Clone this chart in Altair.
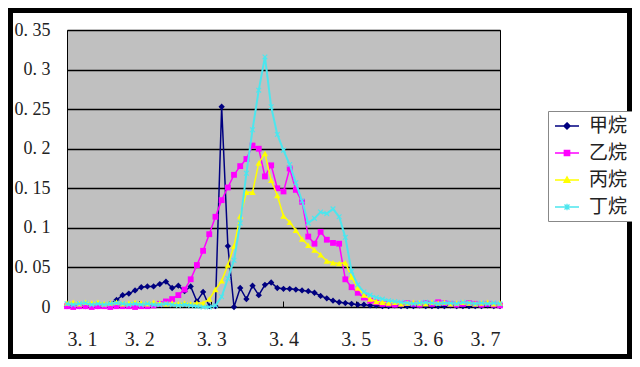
import altair as alt
import pandas as pd

x_values = [
    3.1, 3.1086, 3.1171, 3.1257, 3.1343, 3.1429, 3.1514, 3.16, 3.1686, 3.1771,
    3.1857, 3.1943, 3.2029, 3.2114, 3.22, 3.2286, 3.2371, 3.2457, 3.2543, 3.2629,
    3.2714, 3.28, 3.2886, 3.2971, 3.3057, 3.3143, 3.3229, 3.3314, 3.34, 3.3486,
    3.3571, 3.3657, 3.3743, 3.3829, 3.3914, 3.4, 3.4086, 3.4171, 3.4257, 3.4343,
    3.4429, 3.4514, 3.46, 3.4686, 3.4771, 3.4857, 3.4943, 3.5029, 3.5114, 3.52,
    3.5286, 3.5371, 3.5457, 3.5543, 3.5629, 3.5714, 3.58, 3.5886, 3.5971, 3.6057,
    3.6143, 3.6229, 3.6314, 3.64, 3.6486, 3.6571, 3.6657, 3.6743, 3.6829, 3.6914,
    3.7,
]

methane = [
    0.001, 0.001, 0.001, 0.001, 0.001, 0.001, 0.002, 0.004, 0.009, 0.015,
    0.017, 0.021, 0.025, 0.026, 0.026, 0.029, 0.032, 0.024, 0.027, 0.020,
    0.026, 0.007, 0.019, 0.001, 0.001, 0.253, 0.077, 0.000, 0.024, 0.010,
    0.027, 0.015, 0.028, 0.031, 0.024, 0.023, 0.023, 0.022, 0.021, 0.020,
    0.018, 0.014, 0.011, 0.008, 0.006, 0.005, 0.004, 0.003, 0.003, 0.002,
    0.002, 0.001, 0.001, 0.002, 0.001, 0.001, 0.001, 0.002, 0.001, 0.001,
    0.001, 0.001, 0.002, 0.001, 0.001, 0.001, 0.001, 0.001, 0.002, 0.001,
    0.001,
]

ethane = [
    0.001, 0.000, 0.001, 0.001, 0.000, 0.001, 0.001, 0.000, 0.001, 0.001,
    0.001, 0.000, 0.001, 0.001, 0.002, 0.004, 0.007, 0.010, 0.015, 0.022,
    0.035, 0.053, 0.071, 0.092, 0.114, 0.135, 0.151, 0.167, 0.178, 0.187,
    0.204, 0.200, 0.165, 0.179, 0.150, 0.146, 0.175, 0.148, 0.133, 0.089,
    0.080, 0.095, 0.085, 0.081, 0.080, 0.035, 0.025, 0.018, 0.012, 0.008,
    0.006, 0.004, 0.004, 0.003, 0.004, 0.005, 0.004, 0.003, 0.005, 0.004,
    0.006, 0.005, 0.004, 0.003, 0.004, 0.005, 0.004, 0.003, 0.004, 0.003,
    0.002,
]

propane = [
    0.005, 0.006, 0.004, 0.006, 0.005, 0.006, 0.004, 0.005, 0.006, 0.004,
    0.005, 0.006, 0.005, 0.004, 0.006, 0.005, 0.004, 0.005, 0.004, 0.005,
    0.004, 0.005, 0.005, 0.010, 0.022, 0.033, 0.053, 0.077, 0.115, 0.145,
    0.145, 0.182, 0.194, 0.160, 0.141, 0.115, 0.107, 0.097, 0.086, 0.078,
    0.072, 0.066, 0.058, 0.056, 0.055, 0.056, 0.038, 0.024, 0.015, 0.010,
    0.007, 0.006, 0.005, 0.006, 0.004, 0.005, 0.006, 0.005, 0.004, 0.006,
    0.005, 0.006, 0.004, 0.005, 0.006, 0.005, 0.004, 0.005, 0.006, 0.004,
    0.005,
]

butane = [
    0.004, 0.003, 0.004, 0.005, 0.003, 0.004, 0.003, 0.004, 0.005, 0.004,
    0.003, 0.004, 0.003, 0.004, 0.003, 0.003, 0.004, 0.003, 0.002, 0.003,
    0.002, 0.001, 0.000, 0.000, 0.002, 0.013, 0.036, 0.059, 0.106, 0.169,
    0.224, 0.274, 0.316, 0.253, 0.218, 0.198, 0.180, 0.157, 0.134, 0.106,
    0.112, 0.120, 0.118, 0.124, 0.114, 0.088, 0.045, 0.028, 0.019, 0.015,
    0.012, 0.010, 0.008, 0.007, 0.006, 0.005, 0.004, 0.005, 0.006, 0.005,
    0.004, 0.005, 0.005, 0.004, 0.006, 0.005, 0.004, 0.005, 0.004, 0.005,
    0.004,
]

series_names = ["甲烷", "乙烷", "丙烷", "丁烷"]
series_colors = ["#000080", "#FF00FF", "#FFFF00", "#4CE6EE"]
x_ticks = [3.1, 3.2, 3.3, 3.4, 3.5, 3.6, 3.7]
y_ticks = [0, 0.05, 0.1, 0.15, 0.2, 0.25, 0.3, 0.35]

rows = []
for name, vals in zip(series_names, [methane, ethane, propane, butane]):
    for xv, yv in zip(x_values, vals):
        rows.append({"x": xv, "y": yv, "series": name})
df = pd.DataFrame(rows)

xenc = alt.X(
    "x:Q",
    scale=alt.Scale(domain=[3.1, 3.7], nice=False, zero=False),
    axis=alt.Axis(
        values=x_ticks, format=".1f", labelExpr="replace(datum.label, '.', '. ')",
        grid=False, domain=False, ticks=True, tickSize=6, tickColor="#000",
        tickWidth=1, offset=-6, labelPadding=22, title=None, labelFontSize=20,
    ),
)
yenc = alt.Y(
    "y:Q",
    scale=alt.Scale(domain=[0, 0.35], nice=False, zero=True),
    axis=alt.Axis(
        values=y_ticks, format=".2~f", labelExpr="replace(datum.label, '.', '. ')",
        grid=True, gridColor="#000", gridWidth=1.3, domain=False, ticks=False,
        labelPadding=17, title=None, labelFontSize=18,
    ),
)

base = alt.Chart(df)

marker_specs = [
    dict(shape="diamond", filled=True, size=40),
    dict(shape="square", filled=True, size=34),
    dict(shape="triangle-up", filled=True, size=40),
    dict(shape="M-1,-1L1,1M-1,1L1,-1", filled=False, size=22, strokeWidth=1.2),
]
line_widths = [1.5, 1.5, 1.5, 2.0]

layers = []
for name, col, mspec, lw in zip(series_names, series_colors, marker_specs, line_widths):
    sub = base.transform_filter(alt.datum.series == name)
    layers.append(sub.mark_line(color=col, strokeWidth=lw).encode(x=xenc, y=yenc))
    layers.append(sub.mark_point(color=col, opacity=1, **mspec).encode(x=xenc, y=yenc))

line_seg = "M-1.2,0H1.2"
legend_paths = [
    line_seg + "M0,-0.32L0.32,0L0,0.32L-0.32,0Z M-0.1,-0.21H0.1 M-0.21,-0.1H0.21 M-0.21,0.1H0.21 M-0.1,0.21H0.1",
    line_seg + "M-0.27,-0.27H0.27V0.27H-0.27Z M-0.27,-0.13H0.27 M-0.27,0.13H0.27",
    line_seg + "M0,-0.32L0.3,0.24H-0.3Z M-0.22,0.1H0.22 M-0.14,-0.04H0.14 M-0.07,-0.18H0.07",
    line_seg + "M-0.25,-0.25L0.25,0.25M-0.25,0.25L0.25,-0.25M0,-0.32V0.32",
]

leg = dict(
    title=None, orient="none", legendX=481, legendY=81, padding=4,
    fillColor="white", strokeColor="#888", symbolSize=400, symbolStrokeWidth=1.3,
    symbolOffset=4, labelOffset=11, labelFont="Noto Sans CJK SC", labelFontSize=19,
    labelColor="#222", rowPadding=6,
)

legend_layer = base.transform_filter("false").mark_point(filled=False, opacity=1, strokeWidth=1.3).encode(
    x=xenc, y=yenc,
    color=alt.Color("series:N", scale=alt.Scale(domain=series_names, range=series_colors), legend=alt.Legend(**leg)),
    shape=alt.Shape("series:N", scale=alt.Scale(domain=series_names, range=legend_paths), legend=alt.Legend(**leg)),
)
layers.append(legend_layer)

frame = alt.Chart(pd.DataFrame({"k": [0]})).mark_rect(
    fill="transparent", stroke="#000", strokeWidth=10
).encode(x=alt.value(-59), x2=alt.value(565), y=alt.value(-22), y2=alt.value(329))
layers.append(frame)

chart = alt.layer(*layers).properties(
    width=433, height=277,
    autosize=alt.AutoSizeParams(type="none"),
    padding={"left": 59, "top": 22, "right": 132, "bottom": 52},
    background="white",
).configure_view(
    fill="#C0C0C0", stroke="#000", strokeWidth=1
).configure_axis(
    labelFont="Liberation Serif", labelColor="#222"
)

chart.save("out.html", embed_options={"renderer": "svg", "actions": False})
